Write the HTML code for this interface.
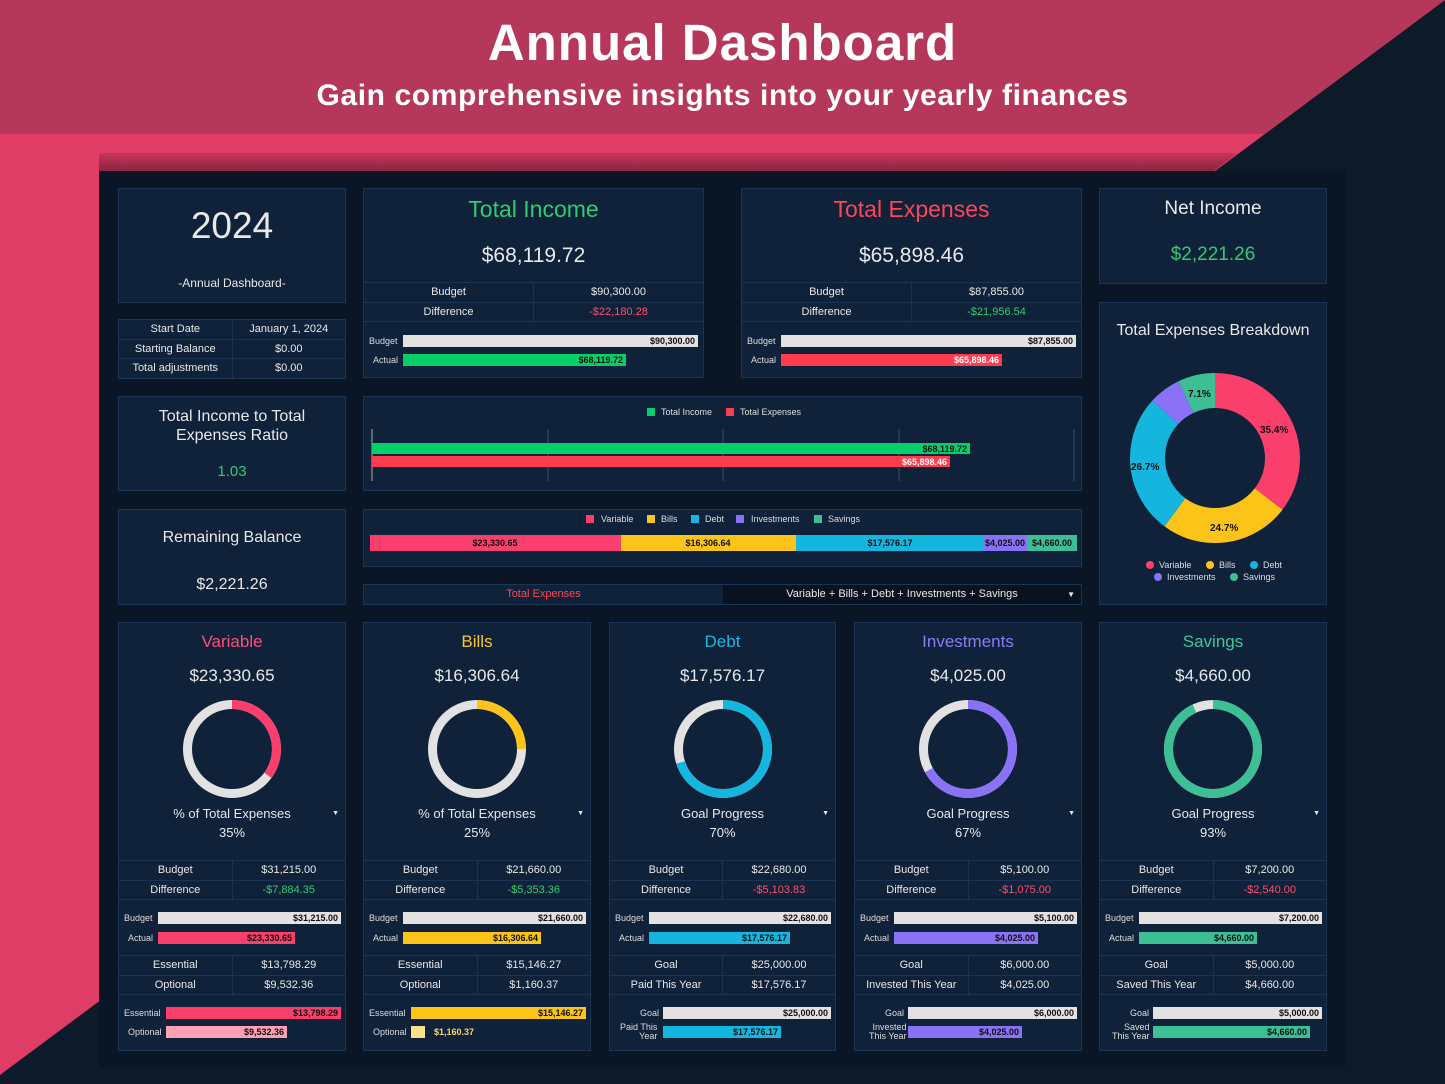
<!DOCTYPE html>
<html><head><meta charset="utf-8"><style>
*{margin:0;padding:0;box-sizing:border-box}
body{width:1445px;height:1084px;position:relative;overflow:hidden;background:#0c1a29;font-family:"Liberation Sans","DejaVu Sans",sans-serif;color:#e8e8e8}
.a{position:absolute}
.card{position:absolute;background:#10223a;border:1px solid #1b3453}
.t{position:absolute;left:0;right:0;text-align:center;white-space:nowrap}
.tbl{position:absolute;left:0;right:0;border-top:1px solid #1b3453;font-size:11px}
.tr{height:19.5px;border-bottom:1px solid #1b3453;display:flex}
.tr div{flex:1;text-align:center;line-height:19px}
.tr div:first-child{border-right:1px solid #1b3453}
.bl{position:absolute;font-size:9px;color:#ddd;text-align:right;white-space:nowrap}
.bar{position:absolute;height:12px;font-size:9px;font-weight:bold;color:#111;text-align:right;padding-right:3px;line-height:12px;white-space:nowrap}
.g{color:#2ecc71}.r{color:#ff4d6a}
</style></head><body>
<svg class="a" style="left:0;top:0" width="1445" height="1084">
<defs><linearGradient id="sh" x1="0" y1="0" x2="0" y2="1"><stop offset="0" stop-color="#c8355a"/><stop offset="1" stop-color="#8a2540"/></linearGradient></defs>
<polygon points="0,0 1445,0 0,1075" fill="#e03d66"/>
<polygon points="0,0 1445,0 1264,134 0,134" fill="#b5385a"/>
<polygon points="99,153 1238,153 1214,171 99,171" fill="url(#sh)"/>
<rect x="99" y="171" width="1247" height="896" fill="#0a1626"/>
</svg>
<div class="t" style="top:13px;font-size:51px;font-weight:bold;color:#fff;letter-spacing:1px">Annual Dashboard</div>
<div class="t" style="top:79px;font-size:30px;font-weight:bold;color:#fff;letter-spacing:0.6px">Gain comprehensive insights into your yearly finances</div>

<div class="card" style="left:118px;top:188px;width:228px;height:115px">
<div class="t" style="top:16px;font-size:37px">2024</div>
<div class="t" style="top:87px;font-size:12px">-Annual Dashboard-</div>
</div>
<div class="card" style="left:118px;top:319px;width:228px;height:60px;border-top:none">
<div class="tbl" style="top:0"><div class="tr"><div>Start Date</div><div>January 1, 2024</div></div><div class="tr"><div>Starting Balance</div><div>$0.00</div></div><div class="tr"><div>Total adjustments</div><div>$0.00</div></div></div>
</div>

<div class="card" style="left:363px;top:188px;width:341px;height:190px">
<div class="t g" style="top:7px;font-size:23px">Total Income</div>
<div class="t" style="top:55px;font-size:21px">$68,119.72</div>
<div class="tbl" style="top:93px"><div class="tr"><div>Budget</div><div>$90,300.00</div></div><div class="tr"><div>Difference</div><div class="r">-$22,180.28</div></div></div>
<div class="bl" style="left:5px;top:147px">Budget</div><div class="bar" style="left:39px;top:146px;width:295px;background:#e2e2e2">$90,300.00</div>
<div class="bl" style="left:9px;top:166px">Actual</div><div class="bar" style="left:39px;top:165px;width:223px;background:#06cf6a">$68,119.72</div>
</div>
<div class="card" style="left:741px;top:188px;width:341px;height:190px">
<div class="t" style="top:7px;font-size:23px;color:#ff4455">Total Expenses</div>
<div class="t" style="top:55px;font-size:21px">$65,898.46</div>
<div class="tbl" style="top:93px"><div class="tr"><div>Budget</div><div>$87,855.00</div></div><div class="tr"><div>Difference</div><div class="g">-$21,956.54</div></div></div>
<div class="bl" style="left:5px;top:147px">Budget</div><div class="bar" style="left:39px;top:146px;width:295px;background:#e2e2e2">$87,855.00</div>
<div class="bl" style="left:9px;top:166px">Actual</div><div class="bar" style="left:39px;top:165px;width:221px;background:#ff3b4e;color:#fff">$65,898.46</div>
</div>
<div class="card" style="left:1099px;top:188px;width:228px;height:96px">
<div class="t" style="top:9px;font-size:19px">Net Income</div>
<div class="t g" style="top:55px;font-size:19px">$2,221.26</div>
</div>
<div class="card" style="left:1099px;top:302px;width:228px;height:303px">
<div class="t" style="top:19px;font-size:16px">Total Expenses Breakdown</div>
<svg class="a" style="left:0;top:0" width="228" height="303">
<g transform="translate(115,155) rotate(-90)" fill="none" stroke-width="35">
<circle r="67.5" stroke="#fb3f6c" stroke-dasharray="150.1 500"/>
<circle r="67.5" stroke="#fcc419" stroke-dasharray="104.8 500" stroke-dashoffset="-150.1"/>
<circle r="67.5" stroke="#14b6de" stroke-dasharray="113.2 500" stroke-dashoffset="-254.9"/>
<circle r="67.5" stroke="#8a72f7" stroke-dasharray="25.9 500" stroke-dashoffset="-368.1"/>
<circle r="67.5" stroke="#3cbf95" stroke-dasharray="30.1 500" stroke-dashoffset="-394"/>
</g>
<g font-size="10" font-weight="bold" fill="#111" font-family="Liberation Sans">
<text x="160" y="130">35.4%</text><text x="110" y="228">24.7%</text><text x="31" y="167">26.7%</text><text x="88" y="94">7.1%</text>
</g>
<g font-size="9" fill="#ddd" font-family="Liberation Sans">
<circle cx="50" cy="262" r="4" fill="#fb3f6c"/><text x="59" y="265">Variable</text>
<circle cx="110" cy="262" r="4" fill="#fcc419"/><text x="119" y="265">Bills</text>
<circle cx="154" cy="262" r="4" fill="#14b6de"/><text x="163" y="265">Debt</text>
<circle cx="58" cy="274" r="4" fill="#8a72f7"/><text x="67" y="277">Investments</text>
<circle cx="134" cy="274" r="4" fill="#3cbf95"/><text x="143" y="277">Savings</text>
</g></svg>
</div>
<div class="card" style="left:118px;top:396px;width:228px;height:95px">
<div class="t" style="top:10px;font-size:16px;line-height:19px">Total Income to Total<br>Expenses Ratio</div>
<div class="t g" style="top:66px;font-size:15px">1.03</div>
</div>
<div class="card" style="left:118px;top:509px;width:228px;height:96px">
<div class="t" style="top:19px;font-size:16px">Remaining Balance</div>
<div class="t" style="top:66px;font-size:16px">$2,221.26</div>
</div>
<div class="card" style="left:363px;top:396px;width:719px;height:95px">
<svg class="a" style="left:0;top:0" width="719" height="95" font-family="Liberation Sans">
<rect x="283" y="11" width="8" height="8" fill="#06cf6a"/><text x="297" y="18" font-size="9" fill="#ddd">Total Income</text>
<rect x="362" y="11" width="8" height="8" fill="#ff3b4e"/><text x="376" y="18" font-size="9" fill="#ddd">Total Expenses</text>
<g stroke="#3a4d66"><line x1="184" y1="32" x2="184" y2="84"/><line x1="359" y1="32" x2="359" y2="84"/><line x1="535" y1="32" x2="535" y2="84"/><line x1="710" y1="32" x2="710" y2="84"/></g>
<line x1="8" y1="32" x2="8" y2="84" stroke="#aaa"/>
<rect x="8" y="46" width="598" height="11" fill="#06cf6a"/>
<rect x="8" y="59" width="578" height="11" fill="#ff3b4e"/>
<text x="603" y="55" font-size="9" font-weight="bold" fill="#111" text-anchor="end">$68,119.72</text>
<text x="583" y="68" font-size="9" font-weight="bold" fill="#fff" text-anchor="end">$65,898.46</text>
</svg>
</div>
<div class="card" style="left:363px;top:509px;width:719px;height:58px">
<svg class="a" style="left:0;top:0" width="719" height="58" font-family="Liberation Sans" font-size="9">
<g fill="#ddd"><rect x="222" y="5" width="8" height="8" fill="#fb3f6c"/><text x="237" y="12">Variable</text>
<rect x="283" y="5" width="8" height="8" fill="#fcc419"/><text x="297" y="12">Bills</text>
<rect x="327" y="5" width="8" height="8" fill="#14b6de"/><text x="341" y="12">Debt</text>
<rect x="372" y="5" width="8" height="8" fill="#8a72f7"/><text x="387" y="12">Investments</text>
<rect x="450" y="5" width="8" height="8" fill="#3cbf95"/><text x="464" y="12">Savings</text></g>
<rect x="6" y="25" width="251" height="16" fill="#fb3f6c"/><rect x="257" y="25" width="175" height="16" fill="#fcc419"/><rect x="432" y="25" width="188" height="16" fill="#14b6de"/><rect x="620" y="25" width="43" height="16" fill="#8a72f7"/><rect x="663" y="25" width="50" height="16" fill="#3cbf95"/>
<g font-weight="bold" fill="#111" text-anchor="middle"><text x="131" y="36">$23,330.65</text><text x="344" y="36">$16,306.64</text><text x="526" y="36">$17,576.17</text><text x="641" y="36">$4,025.00</text><text x="688" y="36">$4,660.00</text></g>
</svg>
</div>
<div class="card" style="left:363px;top:584px;width:719px;height:21px;font-size:11px">
<div class="a" style="left:0;top:0;width:359px;height:19px;line-height:19px;text-align:center;color:#ff4455">Total Expenses</div>
<div class="a" style="left:359px;top:0;width:358px;height:19px;line-height:19px;text-align:center;background:#08131f">Variable + Bills + Debt + Investments + Savings<span style="position:absolute;right:6px;font-size:8px">▼</span></div>
</div>

<div class="card" style="left:118px;top:622px;width:228px;height:429px">
<div class="t" style="top:9px;font-size:17px;color:#ff4d7a">Variable</div>
<div class="t" style="top:43px;font-size:17px">$23,330.65</div>
<svg class="a" style="left:63px;top:76px" width="100" height="100"><g transform="translate(50,50) rotate(-90)" fill="none" stroke-width="9"><circle r="44.5" stroke="#e2e2e2"/><circle r="44.5" stroke="#fb3f6c" stroke-dasharray="97.9 300"/></g></svg>
<div class="t" style="top:183px;font-size:13px">% of Total Expenses<span style="position:absolute;right:6px;font-size:7px;top:4px">▼</span></div>
<div class="t" style="top:202px;font-size:13px">35%</div>
<div class="tbl" style="top:237px"><div class="tr"><div>Budget</div><div>$31,215.00</div></div><div class="tr"><div>Difference</div><div class="g">-$7,884.35</div></div></div>
<div class="bl" style="left:5px;top:290px">Budget</div><div class="bar" style="left:39px;top:289px;width:183px;background:#e2e2e2">$31,215.00</div>
<div class="bl" style="left:9px;top:310px">Actual</div><div class="bar" style="left:39px;top:309px;width:137px;background:#fb3f6c">$23,330.65</div>
<div class="tbl" style="top:332px"><div class="tr"><div>Essential</div><div>$13,798.29</div></div><div class="tr"><div>Optional</div><div>$9,532.36</div></div></div>
<div class="bl" style="left:5px;top:385px">Essential</div><div class="bar" style="left:47px;top:384px;width:175px;background:#fb3f6c">$13,798.29</div>
<div class="bl" style="left:9px;top:404px">Optional</div><div class="bar" style="left:47px;top:403px;width:121px;background:#ff9fb6">$9,532.36</div>
</div>

<div class="card" style="left:363px;top:622px;width:228px;height:429px">
<div class="t" style="top:9px;font-size:17px;color:#f7c531">Bills</div>
<div class="t" style="top:43px;font-size:17px">$16,306.64</div>
<svg class="a" style="left:63px;top:76px" width="100" height="100"><g transform="translate(50,50) rotate(-90)" fill="none" stroke-width="9"><circle r="44.5" stroke="#e2e2e2"/><circle r="44.5" stroke="#fcc419" stroke-dasharray="69.9 300"/></g></svg>
<div class="t" style="top:183px;font-size:13px">% of Total Expenses<span style="position:absolute;right:6px;font-size:7px;top:4px">▼</span></div>
<div class="t" style="top:202px;font-size:13px">25%</div>
<div class="tbl" style="top:237px"><div class="tr"><div>Budget</div><div>$21,660.00</div></div><div class="tr"><div>Difference</div><div class="g">-$5,353.36</div></div></div>
<div class="bl" style="left:5px;top:290px">Budget</div><div class="bar" style="left:39px;top:289px;width:183px;background:#e2e2e2">$21,660.00</div>
<div class="bl" style="left:9px;top:310px">Actual</div><div class="bar" style="left:39px;top:309px;width:138px;background:#fcc419">$16,306.64</div>
<div class="tbl" style="top:332px"><div class="tr"><div>Essential</div><div>$15,146.27</div></div><div class="tr"><div>Optional</div><div>$1,160.37</div></div></div>
<div class="bl" style="left:5px;top:385px">Essential</div><div class="bar" style="left:47px;top:384px;width:175px;background:#fcc419">$15,146.27</div>
<div class="bl" style="left:9px;top:404px">Optional</div><div class="bar" style="left:47px;top:403px;width:14px;background:#ffe08a"></div><div class="a" style="left:70px;top:404px;font-size:9px;font-weight:bold;color:#f7d56a">$1,160.37</div>
</div>

<div class="card" style="left:609px;top:622px;width:227px;height:429px">
<div class="t" style="top:9px;font-size:17px;color:#1fb6e0">Debt</div>
<div class="t" style="top:43px;font-size:17px">$17,576.17</div>
<svg class="a" style="left:63px;top:76px" width="100" height="100"><g transform="translate(50,50) rotate(-90)" fill="none" stroke-width="9"><circle r="44.5" stroke="#e2e2e2"/><circle r="44.5" stroke="#14b6de" stroke-dasharray="195.7 300"/></g></svg>
<div class="t" style="top:183px;font-size:13px">Goal Progress<span style="position:absolute;right:6px;font-size:7px;top:4px">▼</span></div>
<div class="t" style="top:202px;font-size:13px">70%</div>
<div class="tbl" style="top:237px"><div class="tr"><div>Budget</div><div>$22,680.00</div></div><div class="tr"><div>Difference</div><div class="r">-$5,103.83</div></div></div>
<div class="bl" style="left:5px;top:290px">Budget</div><div class="bar" style="left:39px;top:289px;width:182px;background:#e2e2e2">$22,680.00</div>
<div class="bl" style="left:9px;top:310px">Actual</div><div class="bar" style="left:39px;top:309px;width:141px;background:#14b6de">$17,576.17</div>
<div class="tbl" style="top:332px"><div class="tr"><div>Goal</div><div>$25,000.00</div></div><div class="tr"><div>Paid This Year</div><div>$17,576.17</div></div></div>
<div class="bl" style="left:30px;top:385px">Goal</div><div class="bar" style="left:53px;top:384px;width:168px;background:#e2e2e2">$25,000.00</div>
<div class="bl" style="left:10px;top:400px;line-height:9px">Paid This<br>Year</div><div class="bar" style="left:53px;top:403px;width:118px;background:#14b6de">$17,576.17</div>
</div>

<div class="card" style="left:854px;top:622px;width:228px;height:429px">
<div class="t" style="top:9px;font-size:17px;color:#8b7bf5">Investments</div>
<div class="t" style="top:43px;font-size:17px">$4,025.00</div>
<svg class="a" style="left:63px;top:76px" width="100" height="100"><g transform="translate(50,50) rotate(-90)" fill="none" stroke-width="9"><circle r="44.5" stroke="#e2e2e2"/><circle r="44.5" stroke="#8a72f7" stroke-dasharray="187.3 300"/></g></svg>
<div class="t" style="top:183px;font-size:13px">Goal Progress<span style="position:absolute;right:6px;font-size:7px;top:4px">▼</span></div>
<div class="t" style="top:202px;font-size:13px">67%</div>
<div class="tbl" style="top:237px"><div class="tr"><div>Budget</div><div>$5,100.00</div></div><div class="tr"><div>Difference</div><div class="r">-$1,075.00</div></div></div>
<div class="bl" style="left:5px;top:290px">Budget</div><div class="bar" style="left:39px;top:289px;width:183px;background:#e2e2e2">$5,100.00</div>
<div class="bl" style="left:9px;top:310px">Actual</div><div class="bar" style="left:39px;top:309px;width:144px;background:#8a72f7">$4,025.00</div>
<div class="tbl" style="top:332px"><div class="tr"><div>Goal</div><div>$6,000.00</div></div><div class="tr"><div>Invested This Year</div><div>$4,025.00</div></div></div>
<div class="bl" style="left:30px;top:385px">Goal</div><div class="bar" style="left:53px;top:384px;width:169px;background:#e2e2e2">$6,000.00</div>
<div class="bl" style="left:14px;top:400px;line-height:9px">Invested<br>This Year</div><div class="bar" style="left:53px;top:403px;width:114px;background:#8a72f7">$4,025.00</div>
</div>

<div class="card" style="left:1099px;top:622px;width:228px;height:429px">
<div class="t" style="top:9px;font-size:17px;color:#3fc79a">Savings</div>
<div class="t" style="top:43px;font-size:17px">$4,660.00</div>
<svg class="a" style="left:63px;top:76px" width="100" height="100"><g transform="translate(50,50) rotate(-90)" fill="none" stroke-width="9"><circle r="44.5" stroke="#e2e2e2"/><circle r="44.5" stroke="#3cbf95" stroke-dasharray="260 300"/></g></svg>
<div class="t" style="top:183px;font-size:13px">Goal Progress<span style="position:absolute;right:6px;font-size:7px;top:4px">▼</span></div>
<div class="t" style="top:202px;font-size:13px">93%</div>
<div class="tbl" style="top:237px"><div class="tr"><div>Budget</div><div>$7,200.00</div></div><div class="tr"><div>Difference</div><div class="r">-$2,540.00</div></div></div>
<div class="bl" style="left:5px;top:290px">Budget</div><div class="bar" style="left:39px;top:289px;width:183px;background:#e2e2e2">$7,200.00</div>
<div class="bl" style="left:9px;top:310px">Actual</div><div class="bar" style="left:39px;top:309px;width:118px;background:#3cbf95">$4,660.00</div>
<div class="tbl" style="top:332px"><div class="tr"><div>Goal</div><div>$5,000.00</div></div><div class="tr"><div>Saved This Year</div><div>$4,660.00</div></div></div>
<div class="bl" style="left:30px;top:385px">Goal</div><div class="bar" style="left:53px;top:384px;width:169px;background:#e2e2e2">$5,000.00</div>
<div class="bl" style="left:12px;top:400px;line-height:9px">Saved<br>This Year</div><div class="bar" style="left:53px;top:403px;width:157px;background:#3cbf95">$4,660.00</div>
</div>
</body></html>
